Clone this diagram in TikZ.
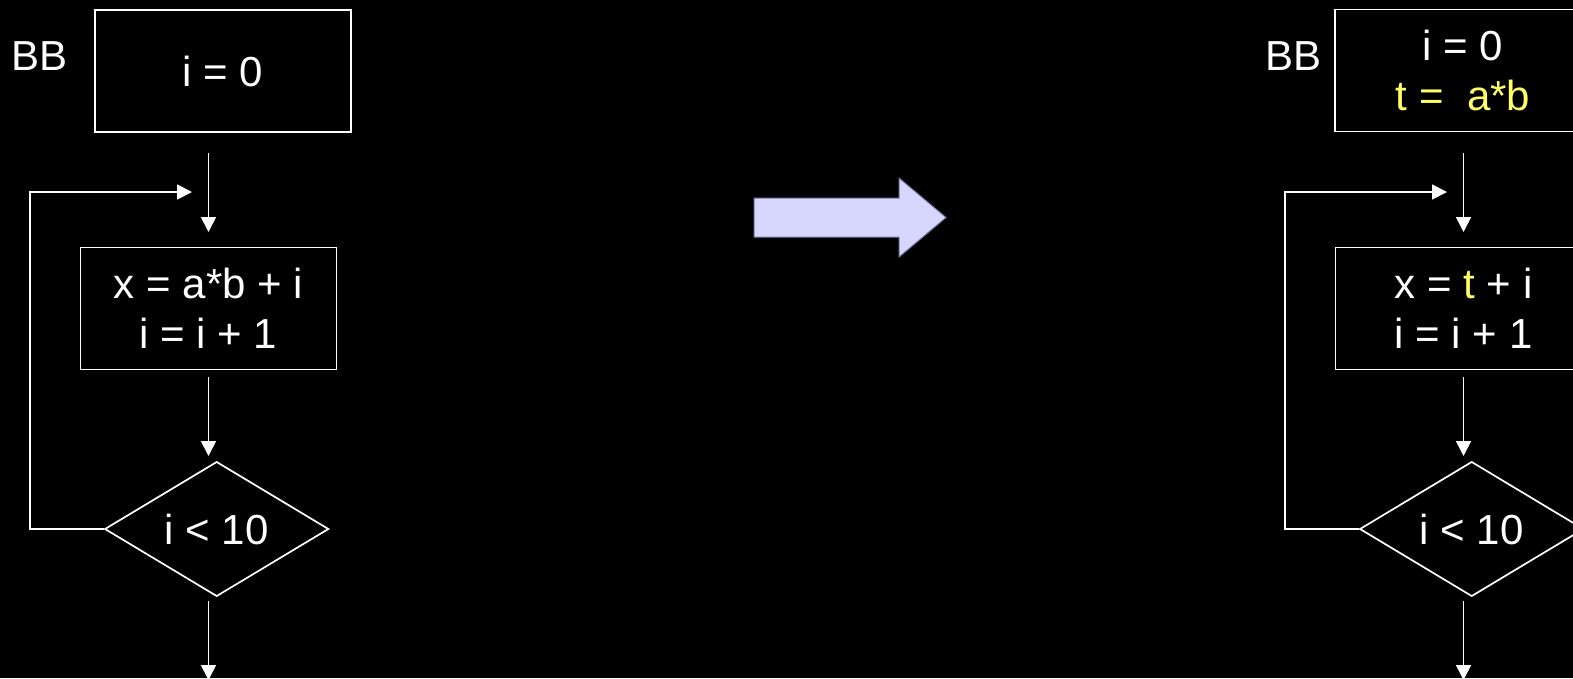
\documentclass[tikz,border=0pt]{standalone}
\usepackage{fontspec}
\setmainfont{Liberation Sans}
\usetikzlibrary{arrows.meta,shapes.geometric}
\definecolor{hilite}{HTML}{FFFF66}
\definecolor{arrowfill}{HTML}{D6D6FF}
\definecolor{arrowedge}{HTML}{7878A0}
\begin{document}
\begin{tikzpicture}[x=1pt,y=-1pt,
  every node/.style={text=white,font=\fontsize{42}{50}\selectfont},
  block/.style={draw=white,line width=1.7pt,minimum width=256pt,minimum height=122pt,inner sep=0pt,align=center},
  test/.style={diamond,draw=white,line width=1.7pt,minimum width=224pt,minimum height=112pt,inner sep=0pt},
  flow/.style={draw=white,line width=1.7pt,-{Triangle[length=15pt,width=15pt]}},
  tag/.style={anchor=base west,inner sep=0pt}]

% page and background
\fill[black] (0,0) rectangle (1573,678);
\clip (0,0) rectangle (1573,678);

% ---------- original loop ----------
\node[tag] (bbL) at (11,70.7) {BB};
\node[block] (initL) at (223,71) {i = 0};
\node[block] (bodyL) at (208.5,308.5) {x = a*b + i\\ i = i + 1};
\node[test] (condL) at (216.7,529) {i < 10};

\coordinate (a1sL) at (208.5,153);
\coordinate (a1eL) at (208.5,232);
\coordinate (a2sL) at (208.5,377);
\coordinate (a2eL) at (208.5,456);
\coordinate (a3sL) at (208.5,601);
\coordinate (a3eL) at (208.5,680);
\coordinate (turnL) at (30,192);
\coordinate (loopL) at (192,192);

\draw[flow] (a1sL) -- (a1eL);
\draw[flow] (a2sL) -- (a2eL);
\draw[flow] (a3sL) -- (a3eL);
\draw[flow] (condL.west) -| (turnL) -- (loopL);

% ---------- transformation arrow ----------
\filldraw[fill=arrowfill,draw=arrowedge,line width=1pt]
  (754,198) -- (899,198) -- (899,178) -- (946,217.5) -- (899,257) -- (899,237) -- (754,237) -- cycle;

% ---------- loop after hoisting a*b ----------
\node[tag] (bbR) at (1265,70.7) {BB};
\node[block] (initR) at (1463,70.5) {i = 0\\ \textcolor{hilite}{t =\ \ a*b}};
\node[block] (bodyR) at (1463.5,308.5) {x = \textcolor{hilite}{t} + i\\ i = i + 1};
\node[test] (condR) at (1471.7,529) {i < 10};

\coordinate (a1sR) at (1463.5,153);
\coordinate (a1eR) at (1463.5,232);
\coordinate (a2sR) at (1463.5,377);
\coordinate (a2eR) at (1463.5,456);
\coordinate (a3sR) at (1463.5,601);
\coordinate (a3eR) at (1463.5,680);
\coordinate (turnR) at (1285,192);
\coordinate (loopR) at (1447,192);

\draw[flow] (a1sR) -- (a1eR);
\draw[flow] (a2sR) -- (a2eR);
\draw[flow] (a3sR) -- (a3eR);
\draw[flow] (condR.west) -| (turnR) -- (loopR);
\end{tikzpicture}
\end{document}
